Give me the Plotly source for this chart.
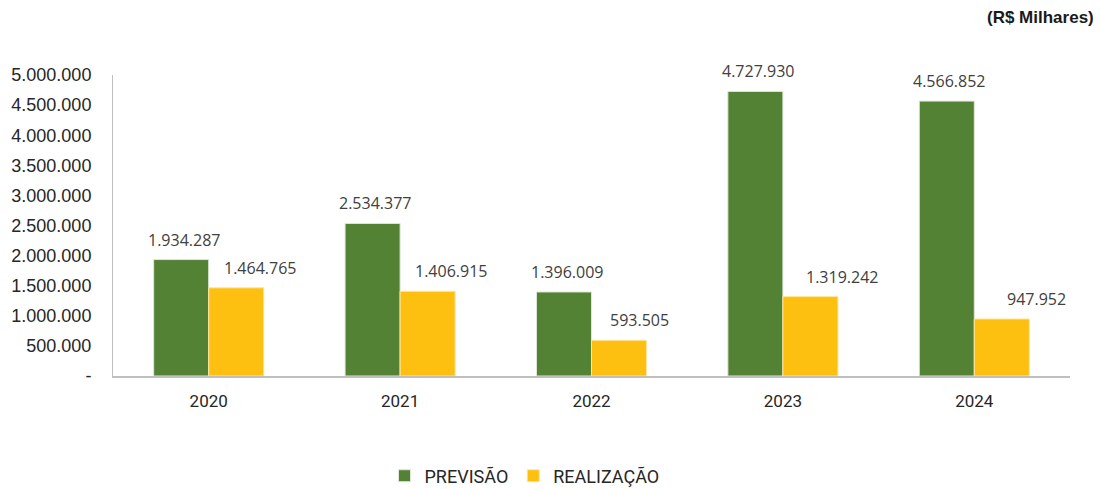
import plotly.graph_objects as go

anos = ["2020", "2021", "2022", "2023", "2024"]
previsao = [1934287, 2534377, 1396009, 4727930, 4566852]
realizacao = [1464765, 1406915, 593505, 1319242, 947952]
tick_vals = [0, 500000, 1000000, 1500000, 2000000, 2500000, 3000000, 3500000, 4000000, 4500000, 5000000]
tick_text = ["-", "500.000", "1.000.000", "1.500.000", "2.000.000", "2.500.000",
             "3.000.000", "3.500.000", "4.000.000", "4.500.000", "5.000.000"]

VERDE = "#548235"
AMARELO = "#FDC010"


def fmt(v):
    return f"{v:,}".replace(",", ".")


fig = go.Figure()
fig.add_trace(go.Bar(x=anos, y=previsao, name="PREVISÃO", marker_color=VERDE,
                     marker_line=dict(color="#dfe8d8", width=1)))
fig.add_trace(go.Bar(x=anos, y=realizacao, name="REALIZAÇÃO", marker_color=AMARELO,
                     marker_line=dict(color="#fde6a0", width=1)))

label_font = dict(family="Open Sans", size=16, color="#404040")
# category serial numbers on the category axis
for i, v in enumerate(previsao):
    fig.add_annotation(x=i, y=v, text=fmt(v), showarrow=False, xref="x", yref="y",
                       xshift=-25, yshift=20, font=label_font)
yel_shift = [24, 24, 21, 32, 35]
for i, (v, s) in enumerate(zip(realizacao, yel_shift)):
    fig.add_annotation(x=i, y=v, text=fmt(v), showarrow=False, xref="x", yref="y",
                       xshift=27 + s, yshift=20, font=label_font)

fig.add_annotation(text="<b>(R$ Milhares)</b>", xref="paper", yref="paper",
                   x=1.027, y=1.19, xanchor="right", yanchor="middle", showarrow=False,
                   font=dict(family="Liberation Sans", size=17, color="#1a1a1a"))

fig.update_layout(
    width=1085, height=481,
    margin=dict(l=105, r=23, t=67, b=113),
    paper_bgcolor="white", plot_bgcolor="white",
    barmode="group", bargap=0.425, bargroupgap=0,
    showlegend=True,
    legend=dict(orientation="h", x=0.43, xanchor="center",
                yref="container", y=0.027, yanchor="middle",
                font=dict(family="Roboto", size=18, color="#262626"),
                traceorder="normal"),
)
fig.update_xaxes(type="category", range=[-0.5, 4.5], showgrid=False, showline=True,
                 linecolor="#bfbfbf", linewidth=2,
                 tickfont=dict(family="Roboto", size=17, color="#262626"),
                 ticks="outside", ticklen=9, tickcolor="rgba(0,0,0,0)", automargin=False)
fig.update_yaxes(range=[0, 5000000], tickvals=tick_vals, ticktext=tick_text,
                 showgrid=False, showline=True, linecolor="#bfbfbf", linewidth=1,
                 zeroline=False, ticks="outside", ticklen=17, tickcolor="rgba(0,0,0,0)",
                 automargin=False,
                 tickfont=dict(family="Liberation Sans", size=18, color="#262626"))

fig.write_html("out.html")
